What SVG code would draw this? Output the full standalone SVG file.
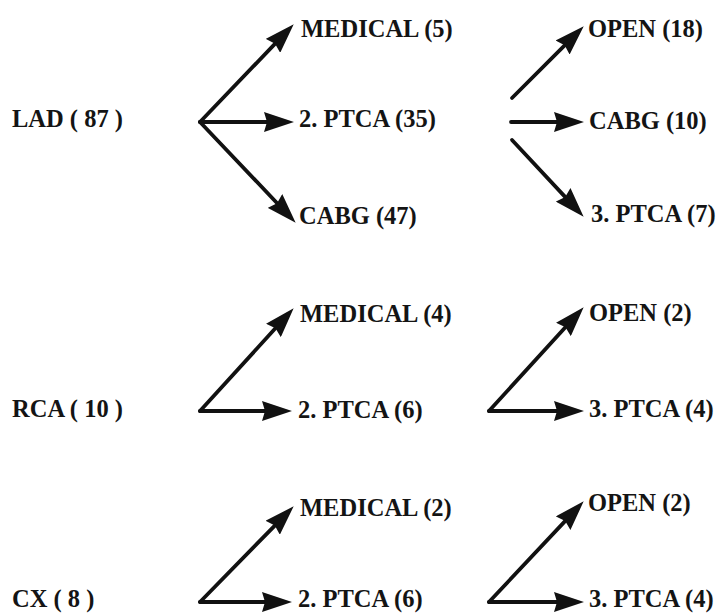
<svg xmlns="http://www.w3.org/2000/svg" width="722" height="615" viewBox="0 0 722 615">
<style>
  text { font-family: "Liberation Serif", "Times New Roman", serif; font-size: 24.5px; font-weight: bold; fill: #141414; }
  .conn line { stroke: #111; stroke-width: 3.8; stroke-linecap: round; marker-end: url(#ah); }
</style>
<defs>
  <marker id="ah" markerUnits="userSpaceOnUse" markerWidth="30" markerHeight="20" refX="9" refY="10" orient="auto" viewBox="0 0 30 20">
    <path d="M0,0 L30,10 L0,20 L3,10 z" fill="#111"/>
  </marker>
</defs>
<rect width="722" height="615" fill="#fff"/>
<g class="conn" id="connectors">
  <line x1="200" y1="122" x2="279.2" y2="39.4"/>
  <line x1="200" y1="122" x2="273" y2="122"/>
  <line x1="200" y1="122" x2="281.2" y2="207.5"/>
  <line x1="512" y1="98" x2="568.9" y2="41.1"/>
  <line x1="511" y1="122" x2="563" y2="122"/>
  <line x1="512" y1="140" x2="569.3" y2="201.4"/>
  <line x1="200" y1="411" x2="279.5" y2="323.8"/>
  <line x1="200" y1="411" x2="271" y2="411"/>
  <line x1="489" y1="411" x2="569.5" y2="322.8"/>
  <line x1="489" y1="411" x2="563" y2="411"/>
  <line x1="200" y1="602" x2="279" y2="521.3"/>
  <line x1="200" y1="602" x2="271" y2="602"/>
  <line x1="489" y1="602" x2="569.3" y2="516.6"/>
  <line x1="489" y1="602" x2="563" y2="602"/>
</g>
<g id="lad"><text x="12" y="127">LAD ( 87 )</text></g>
<g id="lad-medical"><text x="301" y="37">MEDICAL (5)</text></g>
<g id="lad-ptca2"><text x="299" y="127">2. PTCA (35)</text></g>
<g id="lad-cabg"><text x="299" y="224">CABG (47)</text></g>
<g id="lad-open"><text x="588" y="37">OPEN (18)</text></g>
<g id="lad-cabg2"><text x="589" y="129">CABG (10)</text></g>
<g id="lad-ptca3"><text x="591" y="222">3. PTCA (7)</text></g>
<g id="rca"><text x="12" y="417">RCA ( 10 )</text></g>
<g id="rca-medical"><text x="300" y="322">MEDICAL (4)</text></g>
<g id="rca-ptca2"><text x="298" y="418">2. PTCA (6)</text></g>
<g id="rca-open"><text x="589" y="321">OPEN (2)</text></g>
<g id="rca-ptca3"><text x="589" y="417">3. PTCA (4)</text></g>
<g id="cx"><text x="12" y="607">CX ( 8 )</text></g>
<g id="cx-medical"><text x="300" y="516">MEDICAL (2)</text></g>
<g id="cx-ptca2"><text x="298" y="607">2. PTCA (6)</text></g>
<g id="cx-open"><text x="588" y="511">OPEN (2)</text></g>
<g id="cx-ptca3"><text x="589" y="607">3. PTCA (4)</text></g>
</svg>
